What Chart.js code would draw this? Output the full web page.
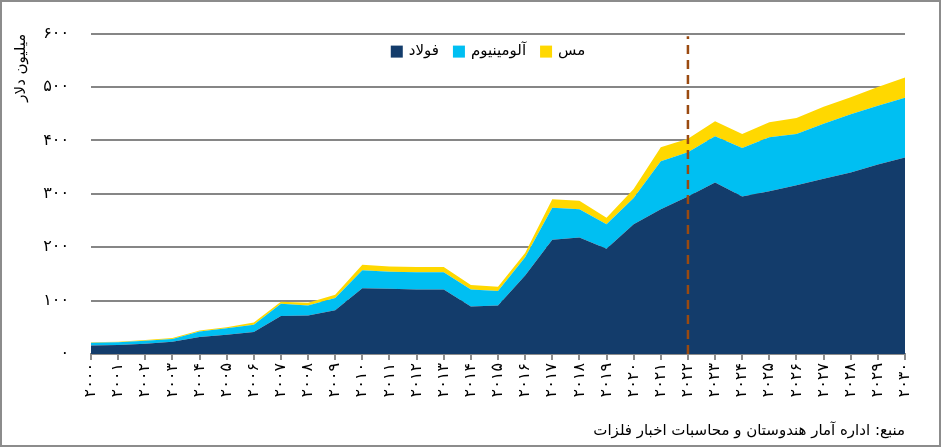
<!DOCTYPE html>
<html lang="fa">
<head>
<meta charset="utf-8">
<script src="https://cdn.jsdelivr.net/npm/chart.js@4/dist/chart.umd.min.js"></script>
<style>
  html, body { margin: 0; padding: 0; background: #fff; }
  #frame {
    width: 941px; height: 447px; box-sizing: border-box;
    border: 2px solid #8c8c8c; background: #fff;
  }
  #metalChart { display: block; }
</style>
</head>
<body>
<div id="frame">
  <canvas id="metalChart" width="937" height="443"></canvas>
</div>
<script>
// years on the x axis (2000 - 2030)
const years = [2000, 2001, 2002, 2003, 2004, 2005, 2006, 2007, 2008, 2009,
  2010, 2011, 2012, 2013, 2014, 2015, 2016, 2017, 2018, 2019,
  2020, 2021, 2022, 2023, 2024, 2025, 2026, 2027, 2028, 2029, 2030];

// million dollars
const steel = [16, 17, 19, 23, 32, 36, 41, 71, 72, 82,
  123, 122, 121, 121, 89, 91, 147, 214, 218, 197,
  243, 271, 295, 321, 295, 305, 316, 328, 340, 355, 368];
const aluminium = [5, 5, 6, 5, 10, 12, 14, 23, 19, 23,
  34, 32, 32, 32, 32, 27, 34, 60, 53, 46,
  49, 90, 83, 87, 91, 101, 96, 103, 109, 110, 112];
const copper = [1, 1, 1, 2, 2, 2, 4, 4, 5, 6,
  10, 10, 10, 10, 8, 8, 8, 16, 16, 12,
  17, 26, 25, 28, 26, 28, 30, 32, 32, 35, 38];

const seriesNames = ['فولاد', 'آلومینیوم', 'مس'];
const yTicks = [0, 100, 200, 300, 400, 500, 600];
const forecastStart = '2022'; // dashed line

const FONT = "'DejaVu Sans', sans-serif";

// western digits -> persian digits
function toFa(v) {
  return String(v).replace(/[0-9]/g, d => '۰۱۲۳۴۵۶۷۸۹'[d]);
}

const forecastLine = {
  id: 'forecastLine',
  afterDatasetsDraw(chart) {
    const { ctx, scales: { x, y } } = chart;
    const px = x.getPixelForValue(years.indexOf(Number(forecastStart)));
    ctx.save();
    ctx.strokeStyle = '#9a4a10';
    ctx.lineWidth = 2.5;
    ctx.setLineDash([9, 6]);
    ctx.beginPath();
    ctx.moveTo(px, y.getPixelForValue(0));
    ctx.lineTo(px, y.getPixelForValue(595));
    ctx.stroke();
    ctx.restore();
  }
};

// horizontal legend inside the plot, near the top (built-in one can't sit there)
const innerLegend = {
  id: 'innerLegend',
  afterDraw(chart) {
    const { ctx, chartArea } = chart;
    const box = 12, gapText = 6, gapItem = 14;
    ctx.save();
    ctx.font = '15px ' + FONT;
    ctx.textBaseline = 'middle';
    const items = chart.data.datasets.map(ds => ({
      text: ds.label, color: ds.backgroundColor, w: ctx.measureText(ds.label).width
    }));
    const total = items.reduce((s, it) => s + box + gapText + it.w, 0) + gapItem * (items.length - 1);
    let x = (chartArea.left + chartArea.right) / 2 - total / 2 - 10;
    const yMid = chartArea.top + 18;
    items.forEach(it => {
      ctx.fillStyle = it.color;
      ctx.fillRect(x, yMid - box / 2, box, box);
      x += box + gapText;
      ctx.fillStyle = '#000';
      ctx.textAlign = 'left';
      ctx.fillText(it.text, x, yMid);
      x += it.w + gapItem;
    });
    ctx.restore();
  }
};

const ctx = document.getElementById('metalChart').getContext('2d');

new Chart(ctx, {
  type: 'line',
  data: {
    labels: years.map(String),
    datasets: [
      {
        label: seriesNames[0],
        data: steel,
        backgroundColor: '#133c6b',
        borderWidth: 0,
        pointRadius: 0,
        fill: 'origin'
      },
      {
        label: seriesNames[1],
        data: aluminium,
        backgroundColor: '#00bff2',
        borderWidth: 0,
        pointRadius: 0,
        fill: '-1'
      },
      {
        label: seriesNames[2],
        data: copper,
        backgroundColor: '#ffd800',
        borderWidth: 0,
        pointRadius: 0,
        fill: '-1'
      }
    ]
  },
  options: {
    responsive: false,
    animation: false,
    layout: { padding: { top: 28, right: 34, left: 0, bottom: 0 } },
    plugins: {
      legend: { display: false },
      title: {
        display: true,
        position: 'bottom',
        align: 'end',
        text: 'منبع: اداره آمار هندوستان و محاسبات اخبار فلزات',
        color: '#000',
        font: { family: FONT, size: 15, weight: 'normal' },
        padding: { top: 10, bottom: 5 }
      },
      tooltip: { enabled: false }
    },
    scales: {
      x: {
        offset: false,
        grid: {
          drawOnChartArea: false,
          drawTicks: true,
          tickLength: 6,
          color: '#8c8c8c',
          lineWidth: 2
        },
        border: { color: '#8c8c8c', width: 2 },
        ticks: {
          autoSkip: false,
          minRotation: 90,
          maxRotation: 90,
          padding: 3,
          color: '#000',
          font: { family: FONT, size: 16 },
          callback: function (value) { return toFa(this.getLabelForValue(value)); }
        },
        afterFit: scale => { scale.height = 58; }
      },
      y: {
        stacked: true,
        min: 0,
        max: 600,
        afterBuildTicks: scale => { scale.ticks = yTicks.map(v => ({ value: v })); },
        grid: {
          drawTicks: false,
          color: '#868686',
          lineWidth: 2
        },
        border: { display: false },
        ticks: {
          padding: 22,
          color: '#000',
          font: { family: FONT, size: 16 },
          callback: v => toFa(v)
        },
        title: {
          display: true,
          text: 'میلیون دلار',
          align: 'end',
          color: '#000',
          font: { family: FONT, size: 15 },
          padding: { top: 10, bottom: 0 }
        },
        afterFit: scale => { scale.width = 89; }
      }
    }
  },
  plugins: [forecastLine, innerLegend]
});
</script>
</body>
</html>
